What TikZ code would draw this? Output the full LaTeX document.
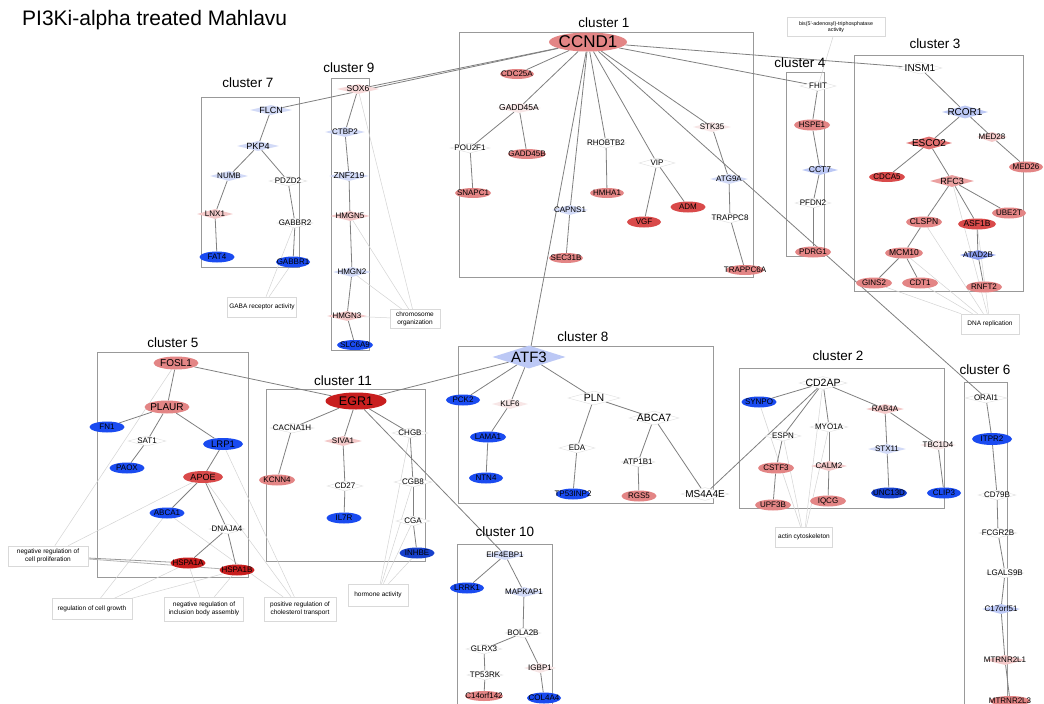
\documentclass[tikz,border=0pt]{standalone}
\usepackage{fontspec}
\setmainfont{Liberation Sans}
\usetikzlibrary{shapes.geometric,backgrounds}
\definecolor{cR1}{HTML}{C81E1E}
\definecolor{cR2}{HTML}{D94A4A}
\definecolor{cR3}{HTML}{E38585}
\definecolor{cRD}{HTML}{E07070}
\definecolor{cRF}{HTML}{EBA0A0}
\definecolor{cP}{HTML}{F3C8C8}
\definecolor{cPP}{HTML}{F7E6E6}
\definecolor{cB}{HTML}{1A4BF0}
\definecolor{cBm}{HTML}{8C9EF0}
\definecolor{cLB}{HTML}{D2DAF7}
\definecolor{cLB2}{HTML}{BCC8F5}
\newcommand\fs[1]{\fontsize{#1}{#1}\selectfont}
\newcommand\gn[5][]{\node[#1] (#2) at (#3) {}; \node[lab,#4] (#2-t) at (#2.center) {#5};}
\tikzset{
  lab/.style={font=\fs{8}, inner sep=0pt},
  el/.style={ellipse, inner sep=0pt, minimum width=36pt, minimum height=11pt},
  di/.style={diamond, inner sep=0pt, minimum width=38pt, minimum height=10pt},
  wd/.style={di, fill=white, draw=black!12, line width=0.4pt},
  cbox/.style={draw=black!40, line width=0.8pt},
  ctitle/.style={font=\fs{13.5}, inner sep=0pt},
  fbox/.style={draw=black!15, line width=0.5pt, fill=white, font=\fontsize{6.5}{7.6}\selectfont, align=center, inner sep=2pt},
  ge/.style={draw=black!50, line width=0.8pt},
  fe/.style={draw=black!17, line width=0.5pt},
}
\begin{document}
\begin{tikzpicture}[x=1pt,y=-1pt]
\clip (0,0) rectangle (1044,704);
\node[anchor=west, font=\fs{21}, inner sep=0pt] (title) at (22,20) {PI3Ki-alpha treated Mahlavu};

% cluster titles
\node[ctitle] (t1) at (604,23) {cluster 1};
\node[ctitle] (t4) at (800,63) {cluster 4};
\node[ctitle] (t3) at (935,44) {cluster 3};
\node[ctitle] (t7) at (248,83) {cluster 7};
\node[ctitle] (t9) at (349,68) {cluster 9};
\node[ctitle] (t5) at (173,343) {cluster 5};
\node[ctitle] (t11) at (343,381) {cluster 11};
\node[ctitle] (t8) at (583,337) {cluster 8};
\node[ctitle] (t2) at (838,356) {cluster 2};
\node[ctitle] (t10) at (505,532) {cluster 10};
\node[ctitle] (t6) at (985,370) {cluster 6};

% cluster 1
\gn[el,fill=cR3,minimum width=78pt,minimum height=19pt]{CCND1}{588,42}{font=\fs{17}}{CCND1}
\gn[el,fill=cR3,minimum width=34pt,minimum height=10pt]{CDC25A}{517,74}{}{CDC25A}
\gn[di,fill=cPP,minimum width=44pt]{GADD45A}{519,108}{font=\fs{8.5}}{GADD45A}
\gn[wd,minimum width=40pt]{POU2F1}{470,148}{}{POU2F1}
\gn[el,fill=cR3,minimum width=38pt,minimum height=10pt]{GADD45B}{527,154}{}{GADD45B}
\gn[wd,minimum width=40pt]{RHOBTB2}{606,143}{}{RHOBTB2}
\gn[wd,minimum width=36pt]{VIP}{657,163}{}{VIP}
\gn[el,fill=cR3,minimum width=36pt,minimum height=10pt]{SNAPC1}{473,193}{}{SNAPC1}
\gn[el,fill=cR3,minimum width=34pt,minimum height=10pt]{HMHA1}{607,193}{}{HMHA1}
\gn[di,fill=cLB,minimum width=36pt]{CAPNS1}{570,210}{}{CAPNS1}
\gn[el,fill=cR2,minimum width=35pt]{ADM}{688,207}{}{ADM}
\gn[el,fill=cR2,minimum width=34pt]{VGF}{644,222}{}{VGF}
\gn[el,fill=cR3,minimum width=34pt,minimum height=10pt]{SEC31B}{566,258}{}{SEC31B}
\gn[di,fill=cPP,minimum width=38pt]{STK35}{712,127}{}{STK35}
\gn[di,fill=cLB,minimum width=38pt]{ATG9A}{729,179}{}{ATG9A}
\gn[wd,minimum width=38pt]{TRAPPC8}{730,218}{}{TRAPPC8}
\gn[el,fill=cR3,minimum width=38pt,minimum height=10pt]{TRAPPC6A}{745,270}{}{TRAPPC6A}

% cluster 4
\gn[wd,minimum width=36pt]{FHIT}{818,86}{}{FHIT}
\gn[el,fill=cR3,minimum width=36pt]{HSPE1}{812,125}{}{HSPE1}
\gn[di,fill=cLB2,minimum width=36pt]{CCT7}{820,170}{font=\fs{8.5}}{CCT7}
\gn[wd,minimum width=36pt]{PFDN2}{813,203}{}{PFDN2}
\gn[el,fill=cR3,minimum width=36pt]{PDRG1}{813,252}{}{PDRG1}
\node[fbox, minimum width=98pt, minimum height=19pt, font=\fontsize{5.3}{6.3}\selectfont] (fBIS) at (836,27) {bis(5'-adenosyl)-triphosphatase\\activity};

% cluster 3
\gn[wd,minimum width=44pt,minimum height=12pt]{INSM1}{920,68}{font=\fs{10}}{INSM1}
\gn[di,fill=cLB2,minimum width=46pt,minimum height=13pt]{RCOR1}{965,112}{font=\fs{10}}{RCOR1}
\gn[di,fill=cRD,minimum width=46pt,minimum height=13pt]{ESCO2}{929,143}{font=\fs{10}}{ESCO2}
\gn[di,fill=cP,minimum width=30pt]{MED28}{992,137}{}{MED28}
\gn[el,fill=cR3,minimum width=34pt]{MED26}{1026,167}{}{MED26}
\gn[el,fill=cR2,minimum width=36pt,minimum height=10pt]{CDCA5}{887,177}{}{CDCA5}
\gn[di,fill=cRF,minimum width=44pt,minimum height=12pt]{RFC3}{952,181}{font=\fs{9}}{RFC3}
\gn[el,fill=cR3,minimum width=34pt]{UBE2T}{1009,213}{}{UBE2T}
\gn[el,fill=cR3,minimum width=36pt]{CLSPN}{924,222}{font=\fs{8.5}}{CLSPN}
\gn[el,fill=cR2,minimum width=38pt]{ASF1B}{977,224}{font=\fs{8.5}}{ASF1B}
\gn[el,fill=cR3,minimum width=38pt]{MCM10}{904,253}{font=\fs{8.5}}{MCM10}
\gn[di,fill=cBm,minimum width=36pt]{ATAD2B}{978,255}{}{ATAD2B}
\gn[el,fill=cR3,minimum width=36pt]{GINS2}{874,283}{}{GINS2}
\gn[el,fill=cR3,minimum width=36pt]{CDT1}{920,283}{}{CDT1}
\gn[el,fill=cR3,minimum width=36pt]{RNFT2}{984,287}{}{RNFT2}
\node[fbox, minimum width=58pt, minimum height=20pt] (fDNA) at (990,324) {DNA replication};

% cluster 7
\gn[di,fill=cLB,minimum width=42pt]{FLCN}{271,110}{font=\fs{9}}{FLCN}
\gn[di,fill=cLB,minimum width=42pt]{PKP4}{258,146}{font=\fs{9}}{PKP4}
\gn[di,fill=cLB,minimum width=38pt]{NUMB}{229,176}{}{NUMB}
\gn[wd,minimum width=38pt]{PDZD2}{288,181}{}{PDZD2}
\gn[di,fill=cP,minimum width=36pt]{LNX1}{215,214}{}{LNX1}
\gn[wd,minimum width=36pt]{GABBR2}{295,223}{}{GABBR2}
\gn[el,fill=cB,minimum width=35pt]{FAT4}{217,257}{}{FAT4}
\gn[el,fill=cB,minimum width=34pt]{GABBR1}{293,262}{}{GABBR1}
\node[fbox, minimum width=68pt, minimum height=20pt] (fGABA) at (262,307) {GABA receptor activity};

% cluster 9
\gn[di,fill=cP!70,minimum width=42pt]{SOX6}{358,89}{font=\fs{8.5}}{SOX6}
\gn[di,fill=cLB,minimum width=40pt]{CTBP2}{345,132}{}{CTBP2}
\gn[di,fill=cLB,minimum width=40pt]{ZNF219}{349,176}{font=\fs{8.5}}{ZNF219}
\gn[di,fill=cP,minimum width=40pt]{HMGN5}{350,216}{}{HMGN5}
\gn[di,fill=cLB,minimum width=38pt]{HMGN2}{352,272}{}{HMGN2}
\gn[di,fill=cP,minimum width=40pt]{HMGN3}{347,316}{}{HMGN3}
\gn[el,fill=cB,minimum width=36pt,minimum height=10pt]{SLC6A9}{355,345}{}{SLC6A9}
\node[fbox, minimum width=50pt, minimum height=19pt] (fCHR) at (415,319) {chromosome\\organization};

% cluster 5
\gn[el,fill=cR3,minimum width=45pt,minimum height=13pt]{FOSL1}{176,363}{font=\fs{10}}{FOSL1}
\gn[el,fill=cR3,minimum width=45pt,minimum height=13pt]{PLAUR}{167,407}{font=\fs{10}}{PLAUR}
\gn[el,fill=cB,minimum width=35pt]{FN1}{107,427}{}{FN1}
\gn[wd,minimum width=38pt]{SAT1}{147,441}{}{SAT1}
\gn[el,fill=cB,minimum width=40pt,minimum height=12pt]{LRP1}{223,444}{font=\fs{9.5}}{LRP1}
\gn[el,fill=cB,minimum width=35pt]{PAOX}{127,468}{}{PAOX}
\gn[el,fill=cR2,minimum width=40pt,minimum height=12pt]{APOE}{203,477}{font=\fs{9}}{APOE}
\gn[el,fill=cB,minimum width=35pt]{ABCA1}{167,513}{}{ABCA1}
\gn[wd,minimum width=36pt]{DNAJA4}{227,529}{}{DNAJA4}
\gn[el,fill=cR1,minimum width=35pt]{HSPA1A}{188,563}{}{HSPA1A}
\gn[el,fill=cR1,minimum width=35pt]{HSPA1B}{237,570}{}{HSPA1B}
\node[fbox, minimum width=80pt, minimum height=20pt] (fNRP) at (48,556) {negative regulation of\\cell proliferation};
\node[fbox, minimum width=80pt, minimum height=21pt] (fRCG) at (92,609) {regulation of cell growth};
\node[fbox, minimum width=79pt, minimum height=24pt] (fNRI) at (204,609) {negative regulation of\\inclusion body assembly};
\node[fbox, minimum width=72pt, minimum height=24pt] (fPRC) at (300,609) {positive regulation of\\cholesterol transport};

% cluster 11
\gn[el,fill=cR1,minimum width=61pt,minimum height=17pt]{EGR1}{356,401}{font=\fs{12.5}}{EGR1}
\gn[wd,minimum width=44pt]{CACNA1H}{292,428}{}{CACNA1H}
\gn[di,fill=cP,minimum width=38pt]{SIVA1}{343,441}{}{SIVA1}
\gn[wd,minimum width=36pt]{CHGB}{410,433}{}{CHGB}
\gn[el,fill=cR3,minimum width=36pt]{KCNN4}{277,480}{}{KCNN4}
\gn[wd,minimum width=36pt]{CD27}{345,486}{}{CD27}
\gn[wd,minimum width=38pt]{CGB8}{413,482}{}{CGB8}
\gn[el,fill=cB,minimum width=35pt]{IL7R}{344,518}{}{IL7R}
\gn[wd,minimum width=34pt]{CGA}{413,521}{}{CGA}
\gn[el,fill=cB!85!black,minimum width=35pt]{INHBE}{417,553}{}{INHBE}
\node[fbox, minimum width=60pt, minimum height=22pt] (fHOR) at (378,595) {hormone activity};

% cluster 8
\gn[di,fill=cLB2,minimum width=73pt,minimum height=23pt]{ATF3}{529,357}{font=\fs{15}}{ATF3}
\gn[el,fill=cB,minimum width=34pt]{PCK2}{463,400}{}{PCK2}
\gn[di,fill=cPP,minimum width=36pt]{KLF6}{510,404}{}{KLF6}
\gn[wd,minimum width=52pt,minimum height=14pt]{PLN}{594,398}{font=\fs{10.5}}{PLN}
\gn[wd,minimum width=50pt,minimum height=14pt]{ABCA7}{654,418}{font=\fs{10.5}}{ABCA7}
\gn[el,fill=cB,minimum width=36pt]{LAMA1}{488,437}{}{LAMA1}
\gn[wd,minimum width=36pt]{EDA}{577,448}{}{EDA}
\gn[wd,minimum width=34pt]{ATP1B1}{638,462}{}{ATP1B1}
\gn[el,fill=cB,minimum width=34pt]{NTN4}{486,478}{}{NTN4}
\gn[el,fill=cB,minimum width=34pt]{TP53INP2}{573,494}{}{TP53INP2}
\gn[el,fill=cR3,minimum width=35pt]{RGS5}{639,496}{}{RGS5}
\gn[wd,minimum width=48pt,minimum height=13pt]{MS4A4E}{705,494}{font=\fs{10}}{MS4A4E}

% cluster 2
\gn[wd,minimum width=48pt,minimum height=13pt]{CD2AP}{823,383}{font=\fs{10.5}}{CD2AP}
\gn[el,fill=cB,minimum width=35pt]{SYNPO}{759,402}{}{SYNPO}
\gn[di,fill=cP,minimum width=38pt]{RAB4A}{885,409}{}{RAB4A}
\gn[wd,minimum width=36pt]{ESPN}{783,436}{}{ESPN}
\gn[wd,minimum width=38pt]{MYO1A}{829,427}{}{MYO1A}
\gn[di,fill=cLB,minimum width=38pt]{STX11}{887,449}{}{STX11}
\gn[di,fill=cPP,minimum width=36pt]{TBC1D4}{938,445}{}{TBC1D4}
\gn[el,fill=cR3,minimum width=36pt]{CSTF3}{776,468}{}{CSTF3}
\gn[di,fill=cP,minimum width=36pt]{CALM2}{829,466}{}{CALM2}
\gn[el,fill=cB!85!black,minimum width=36pt]{UNC13D}{889,493}{}{UNC13D}
\gn[el,fill=cB,minimum width=34pt]{CLIP3}{944,493}{}{CLIP3}
\gn[el,fill=cR3,minimum width=36pt]{UPF3B}{773,505}{}{UPF3B}
\gn[el,fill=cR3,minimum width=36pt]{IQCG}{828,501}{}{IQCG}
\node[fbox, minimum width=57pt, minimum height=20pt] (fACT) at (804,537) {actin cytoskeleton};

% cluster 10
\gn[di,fill=cLB,minimum width=40pt]{EIF4EBP1}{505,555}{}{EIF4EBP1}
\gn[el,fill=cB,minimum width=34pt]{LRRK1}{467,588}{}{LRRK1}
\gn[di,fill=cLB,minimum width=40pt]{MAPKAP1}{524,592}{}{MAPKAP1}
\gn[wd,minimum width=36pt]{BOLA2B}{523,633}{}{BOLA2B}
\gn[wd,minimum width=36pt]{GLRX3}{484,649}{}{GLRX3}
\gn[di,fill=cPP,minimum width=32pt]{IGBP1}{540,668}{}{IGBP1}
\gn[wd,minimum width=36pt]{TP53RK}{485,675}{}{TP53RK}
\gn[el,fill=cR3,minimum width=38pt,minimum height=10pt]{C14orf142}{484,696}{}{C14orf142}
\gn[el,fill=cB,minimum width=34pt]{COL4A4}{544,698}{}{COL4A4}

% cluster 6
\gn[wd,minimum width=42pt]{ORAI1}{986,398}{}{ORAI1}
\gn[el,fill=cB,minimum width=40pt,minimum height=12pt]{ITPR2}{992,439}{}{ITPR2}
\gn[wd,minimum width=38pt]{CD79B}{997,495}{}{CD79B}
\gn[wd,minimum width=38pt]{FCGR2B}{998,533}{}{FCGR2B}
\gn[wd,minimum width=38pt]{LGALS9B}{1005,573}{}{LGALS9B}
\gn[di,fill=cLB2,minimum width=38pt]{C17orf51}{1001,609}{}{C17orf51}
\gn[di,fill=cP,minimum width=40pt]{MTRNR2L1}{1005,660}{}{MTRNR2L1}
\gn[el,fill=cR3,minimum width=40pt,minimum height=10pt]{MTRNR2L3}{1010,701}{}{MTRNR2L3}

\begin{pgfonlayer}{background}
\fill[white] (0,0) rectangle (1044,704);
% cluster boxes
\draw[cbox] (459,32) rectangle (753,277);
\draw[cbox] (786,72) rectangle (824,256);
\draw[cbox] (854,55) rectangle (1023,291);
\draw[cbox] (201,97) rectangle (299,267);
\draw[cbox] (331,78) rectangle (369,350);
\draw[cbox] (97,352) rectangle (248,577);
\draw[cbox] (266,389) rectangle (425,561);
\draw[cbox] (458,346) rectangle (713,503);
\draw[cbox] (739,368) rectangle (944,508);
\draw[cbox] (457,544) rectangle (552,720);
\draw[cbox] (964,382) rectangle (1007,720);
% function edges
\foreach \a/\b in {fBIS/FHIT, fGABA/GABBR2, fGABA/GABBR1,
  fCHR/SOX6, fCHR/HMGN5, fCHR/HMGN2, fCHR/HMGN3,
  fDNA/GINS2, fDNA/CDT1, fDNA/MCM10, fDNA/CLSPN, fDNA/RFC3, fDNA/ASF1B,
  fNRP/FOSL1, fNRP/APOE, fRCG/ABCA1, fRCG/HSPA1A, fRCG/HSPA1B,
  fNRI/HSPA1A, fNRI/HSPA1B, fPRC/LRP1, fPRC/APOE, fPRC/ABCA1,
  fHOR/CHGB, fHOR/CGB8, fHOR/CGA, fHOR/INHBE,
  fACT/SYNPO, fACT/ESPN, fACT/CD2AP, fACT/MYO1A}
  \draw[fe] (\a) -- (\b);
\draw[ge,draw=black!40] (fNRP) -- (HSPA1A);
\draw[ge,draw=black!30] (fNRP) -- (HSPA1B);
% gene edges
\foreach \a/\b in {CCND1/SOX6, CCND1/FLCN, CCND1/INSM1, CCND1/FHIT, CCND1/ATF3, CCND1/ORAI1,
  CCND1/CDC25A, CCND1/GADD45A, GADD45A/POU2F1, GADD45A/GADD45B, POU2F1/SNAPC1,
  CCND1/RHOBTB2, RHOBTB2/HMHA1, CCND1/VIP, VIP/VGF, VIP/ADM, CCND1/CAPNS1, CAPNS1/SEC31B,
  CCND1/STK35, STK35/ATG9A, ATG9A/TRAPPC8, TRAPPC8/TRAPPC6A,
  FHIT/HSPE1, HSPE1/CCT7, CCT7/PFDN2, PFDN2/PDRG1,
  INSM1/RCOR1, RCOR1/ESCO2, RCOR1/MED28, MED28/MED26, ESCO2/CDCA5, ESCO2/RFC3,
  RFC3/CLSPN, RFC3/ASF1B, RFC3/UBE2T, CLSPN/MCM10, MCM10/GINS2, MCM10/CDT1,
  ASF1B/ATAD2B, ATAD2B/RNFT2,
  FLCN/PKP4, PKP4/NUMB, PKP4/PDZD2, NUMB/LNX1, LNX1/FAT4, PDZD2/GABBR2, GABBR2/GABBR1,
  SOX6/CTBP2, CTBP2/ZNF219, ZNF219/HMGN5, HMGN5/HMGN2, HMGN2/HMGN3, HMGN3/SLC6A9,
  FOSL1/PLAUR, PLAUR/FN1, PLAUR/SAT1, SAT1/PAOX, PLAUR/LRP1, LRP1/APOE, APOE/ABCA1,
  APOE/DNAJA4, DNAJA4/HSPA1B, DNAJA4/HSPA1A,
  FOSL1/EGR1, EGR1/ATF3, EGR1/EIF4EBP1,
  EGR1/CACNA1H, CACNA1H/KCNN4, EGR1/SIVA1, SIVA1/CD27, CD27/IL7R, EGR1/CHGB, CHGB/CGB8,
  CGB8/CGA, CGA/INHBE,
  ATF3/PCK2, ATF3/KLF6, KLF6/LAMA1, LAMA1/NTN4, ATF3/PLN, PLN/EDA, EDA/TP53INP2,
  PLN/ABCA7, ABCA7/ATP1B1, ATP1B1/RGS5, ABCA7/MS4A4E, MS4A4E/CD2AP,
  CD2AP/SYNPO, CD2AP/ESPN, CD2AP/MYO1A, CD2AP/RAB4A, ESPN/CSTF3, CSTF3/UPF3B,
  MYO1A/CALM2, CALM2/IQCG, RAB4A/STX11, STX11/UNC13D, RAB4A/TBC1D4, TBC1D4/CLIP3,
  EIF4EBP1/LRRK1, EIF4EBP1/MAPKAP1, MAPKAP1/BOLA2B, BOLA2B/GLRX3, GLRX3/TP53RK,
  TP53RK/C14orf142, BOLA2B/IGBP1, IGBP1/COL4A4,
  ORAI1/ITPR2, ITPR2/CD79B, CD79B/FCGR2B, FCGR2B/LGALS9B, LGALS9B/C17orf51,
  C17orf51/MTRNR2L1, MTRNR2L1/MTRNR2L3}
  \draw[ge] (\a) -- (\b);
\end{pgfonlayer}
\end{tikzpicture}
\end{document}
